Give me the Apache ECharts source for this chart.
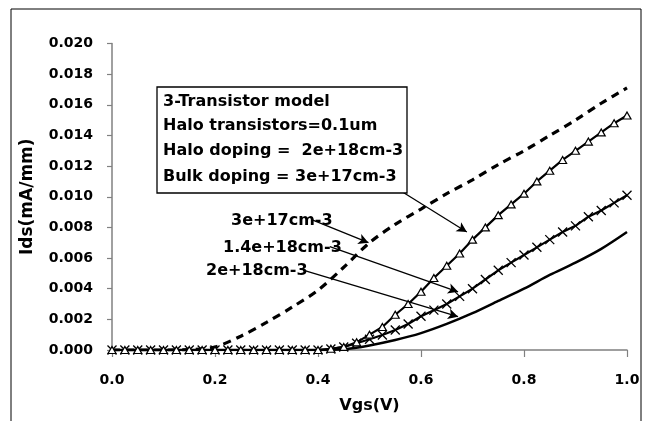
<!DOCTYPE html>
<html>
<head>
<meta charset="utf-8">
<script src="https://cdn.jsdelivr.net/npm/echarts@6/dist/echarts.min.js"></script>
<style>
html,body{margin:0;padding:0;background:#fff;}
#chart{width:647px;height:421px;}
</style>
</head>
<body>
<div id="chart"></div>
<script>
// ---- data ----
var vgsFine = [0,0.025,0.05,0.075,0.1,0.125,0.15,0.175,0.2,0.225,0.25,0.275,0.3,0.325,0.35,0.375,0.4,0.425,0.45,0.475,0.5,0.525,0.55,0.575,0.6,0.625,0.65,0.675,0.7,0.725,0.75,0.775,0.8,0.825,0.85,0.875,0.9,0.925,0.95,0.975,1.0];
var vgsCoarse = [0,0.05,0.1,0.15,0.2,0.25,0.3,0.35,0.4,0.45,0.5,0.55,0.6,0.65,0.7,0.75,0.8,0.85,0.9,0.95,1.0];

var idsDashed = [0,0,0,0.00002,0.0002,0.0009,0.0018,0.0028,0.0039,0.0054,0.0070,0.0082,0.0092,0.0102,0.0111,0.0121,0.0130,0.0140,0.0150,0.0161,0.0171];
var idsTriangle = [0,0,0,0,0,0,0,0,0,0,0,0,0,0,0,0,0,0.00008,0.0002,0.0005,0.0010,0.0015,0.0023,0.0030,0.0038,0.0047,0.0055,0.0063,0.0072,0.0080,0.0088,0.0095,0.0102,0.0110,0.0117,0.0124,0.0130,0.0136,0.0142,0.0148,0.0153];
var idsCross = [0,0,0,0,0,0,0,0,0,0,0,0,0,0,0,0,0,0.00006,0.0002,0.00044,0.0007,0.00098,0.0013,0.0017,0.0022,0.0026,0.0030,0.0035,0.0040,0.0046,0.0052,0.0057,0.0062,0.0067,0.0072,0.0077,0.0081,0.0087,0.0091,0.0096,0.0101];
var idsSolid = [0,0,0,0,0,0,0,0,0,0.00005,0.0003,0.00065,0.0011,0.0017,0.0024,0.0032,0.0040,0.0049,0.0057,0.0066,0.0077];

var boxLines = ["3-Transistor model","Halo transistors=0.1um","Halo doping =  2e+18cm-3","Bulk doping = 3e+17cm-3"];
var curveLabels = ["3e+17cm-3","1.4e+18cm-3","2e+18cm-3"];
// arrows (data coordinates): [start, tip]
var arrows = [
  [[0.536,0.0109],[0.689,0.0077]],
  [[0.390,0.00847],[0.498,0.0070]],
  [[0.423,0.00674],[0.672,0.0038]],
  [[0.371,0.00522],[0.672,0.00217]]
];

function pairs(xs, ys){ return xs.map(function(x,i){ return [x, ys[i]]; }); }

var FONT = 'DejaVu Sans';
var chart = echarts.init(document.getElementById('chart'), null, {renderer:'canvas'});

var textStyleBase = {fontFamily: FONT, fontWeight: 'bold', fill: '#000'};

var graphics = [
  {type:'rect', shape:{x:11,y:9,width:630,height:450}, style:{fill:'none', stroke:'#000', lineWidth:1}, z:-1, silent:true},
  {type:'rect', shape:{x:157,y:87,width:250,height:106}, style:{fill:'#fff', stroke:'#000', lineWidth:1.3}, z:50, silent:true}
];
var boxY = [101.7,125.7,150.7,176.7];
boxLines.forEach(function(t,i){
  graphics.push({type:'text', left:163, top:boxY[i]-8, z:51, silent:true,
    style:Object.assign({text:t, fontSize:16}, textStyleBase)});
});
var labPos = [[231,220.7],[223,247.7],[206,270]];
curveLabels.forEach(function(t,i){
  graphics.push({type:'text', left:labPos[i][0], top:labPos[i][1]-7.5, z:40, silent:true,
    style:Object.assign({text:t, fontSize:16}, textStyleBase)});
});

var option = {
  animation:false,
  backgroundColor:'#fff',
  grid:{left:112, right:20, top:43.5, bottom:71, containLabel:false},
  xAxis:{
    type:'value', min:0, max:1, interval:0.2,
    name:'Vgs(V)', nameLocation:'middle', nameGap:48,
    nameTextStyle:{fontFamily:FONT, fontWeight:'bold', fontSize:16, color:'#000'},
    axisLine:{onZero:false, lineStyle:{color:'#808080', width:1.5}},
    axisTick:{show:true, inside:false, length:7, lineStyle:{color:'#808080', width:1.2}},
    axisLabel:{margin:23, fontFamily:FONT, fontWeight:'bold', fontSize:14, color:'#000',
      formatter:function(v){return v.toFixed(1);}},
    splitLine:{show:false}
  },
  yAxis:{
    type:'value', min:0, max:0.02, interval:0.002,
    name:'Ids(mA/mm)', nameLocation:'middle', nameGap:76, nameRotate:90,
    nameTextStyle:{fontFamily:FONT, fontWeight:'bold', fontSize:17, color:'#000'},
    axisLine:{show:true, lineStyle:{color:'#808080', width:1.5}},
    axisTick:{show:true, inside:false, length:5, lineStyle:{color:'#808080', width:1.2}},
    axisLabel:{margin:19, fontFamily:FONT, fontWeight:'bold', fontSize:14, color:'#000',
      formatter:function(v){return v.toFixed(3);}},
    splitLine:{show:false}
  },
  graphic:graphics,
  series:[
    {
      name:'dashed', type:'line', data:pairs(vgsCoarse, idsDashed),
      showSymbol:false, symbol:'none', smooth:0.3,
      lineStyle:{color:'#000', width:3.2, type:[8,6]}, z:3
    },
    {
      name:'solid', type:'line', data:pairs(vgsCoarse, idsSolid),
      showSymbol:false, symbol:'none', smooth:0.3,
      lineStyle:{color:'#000', width:2.5}, z:3,
      markLine:{
        silent:true, symbol:['none','arrow'], symbolSize:[8,10],
        lineStyle:{color:'#000', width:1.3, type:'solid'},
        label:{show:false},
        data:arrows.map(function(a){ return [{coord:a[0]},{coord:a[1]}]; })
      }
    },
    {
      name:'cross', type:'line', data:pairs(vgsFine, idsCross),
      symbol:'path://M0,0L10,10M10,0L0,10', symbolSize:9, showAllSymbol:true,
      itemStyle:{color:'none', borderColor:'#000', borderWidth:1.3},
      lineStyle:{color:'#000', width:2.2}, z:4
    },
    {
      name:'triangle', type:'line', data:pairs(vgsFine, idsTriangle),
      symbol:'triangle', symbolSize:[8,7], showAllSymbol:true,
      itemStyle:{color:'#fff', borderColor:'#000', borderWidth:1.2},
      lineStyle:{color:'#000', width:2.2}, z:5
    }
  ]
};
chart.setOption(option);
</script>
</body>
</html>
